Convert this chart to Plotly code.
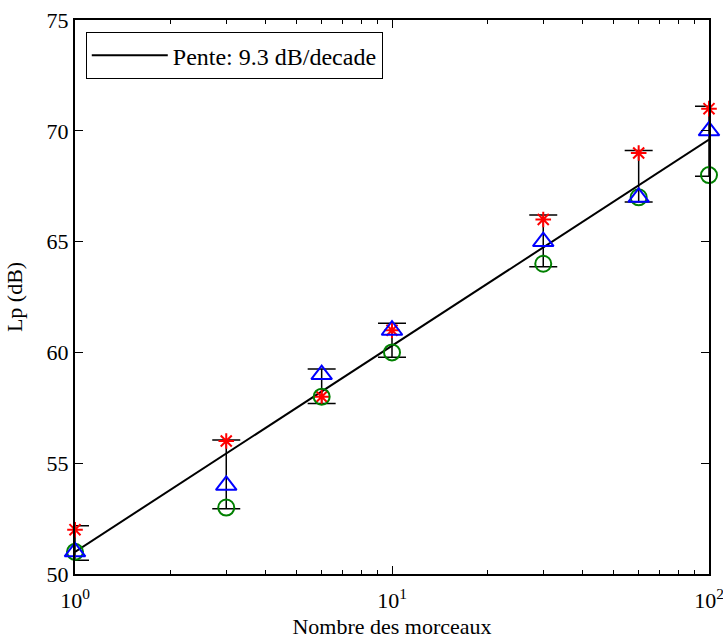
import plotly.graph_objects as go

# Data
n_pieces = [1, 3, 6, 10, 30, 60, 100]
lp_star = [52, 56, 58, 61, 66, 69, 71]
lp_tri = [51, 54, 59, 61, 65, 67, 70]
lp_circ = [51, 53, 58, 60, 64, 67, 68]
err_center = [51.4, 54.5, 58.47, 60.55, 65.03, 67.95, 69.53]
err_half = [0.78, 1.55, 0.78, 0.77, 1.17, 1.16, 1.58]
fit_x = [1, 100]
fit_y = [51.0, 69.6]
legend_label = "Pente: 9.3 dB/decade"
x_tickvals = [1, 10, 100]
x_ticktext = ["10<sup>0</sup>", "10<sup>1</sup>", "10<sup>2</sup>"]
x_minor = [2, 3, 4, 5, 6, 7, 8, 9, 20, 30, 40, 50, 60, 70, 80, 90]

font = "Liberation Serif, Times New Roman, serif"

fig = go.Figure()
fig.add_trace(go.Scatter(
    x=n_pieces, y=err_center, mode="markers",
    marker=dict(size=1, color="rgba(0,0,0,0)"),
    error_y=dict(type="data", array=err_half, visible=True, color="black",
                 thickness=1.5, width=14),
    showlegend=False, hoverinfo="skip", cliponaxis=False))
fig.add_trace(go.Scatter(
    x=fit_x, y=fit_y, mode="lines", line=dict(color="black", width=2),
    name=legend_label, showlegend=True, cliponaxis=False))
fig.add_trace(go.Scatter(
    x=n_pieces, y=lp_star, mode="markers",
    marker=dict(symbol="asterisk-open", size=13, line=dict(color="red", width=2), color="red"),
    showlegend=False, cliponaxis=False))
fig.add_trace(go.Scatter(
    x=n_pieces, y=lp_circ, mode="markers",
    marker=dict(symbol="circle-open", size=16, line=dict(color="green", width=2), color="green"),
    showlegend=False, cliponaxis=False))
fig.add_trace(go.Scatter(
    x=n_pieces, y=lp_tri, mode="markers",
    marker=dict(symbol="triangle-up-open", size=18, line=dict(color="blue", width=2), color="blue"),
    showlegend=False, cliponaxis=False))

fig.update_layout(
    width=723, height=639,
    margin=dict(l=75, r=14, t=20, b=65),
    paper_bgcolor="white", plot_bgcolor="white",
    font=dict(family=font, size=22, color="black"),
    showlegend=True,
    legend=dict(x=0.017, y=0.978, xanchor="left", yanchor="top",
                bordercolor="black", borderwidth=1, bgcolor="white",
                itemwidth=76,
                font=dict(family=font, size=24)),
)
fig.update_xaxes(
    type="log", range=[0, 2], automargin=False,
    tickvals=x_tickvals, ticktext=x_ticktext, ticklabeloverflow="allow",
    ticklabelstandoff=6,
    ticks="inside", ticklen=8, tickwidth=1, tickcolor="black",
    minor=dict(tickvals=x_minor, ticks="inside", ticklen=4, tickcolor="black", showgrid=False),
    showline=True, linecolor="black", linewidth=2, mirror="ticks",
    showgrid=False, zeroline=False,
    title=dict(text="Nombre des morceaux", font=dict(family=font, size=22), standoff=8),
    tickfont=dict(family=font, size=22),
)
fig.update_yaxes(
    range=[50, 75], dtick=5, tick0=50, automargin=False,
    ticks="inside", ticklen=8, tickwidth=1, tickcolor="black",
    showline=True, linecolor="black", linewidth=2, mirror="ticks",
    showgrid=False, zeroline=False,
    title=dict(text="Lp (dB)", font=dict(family=font, size=22), standoff=18),
    tickfont=dict(family=font, size=22),
)

fig.write_html("out.html")
